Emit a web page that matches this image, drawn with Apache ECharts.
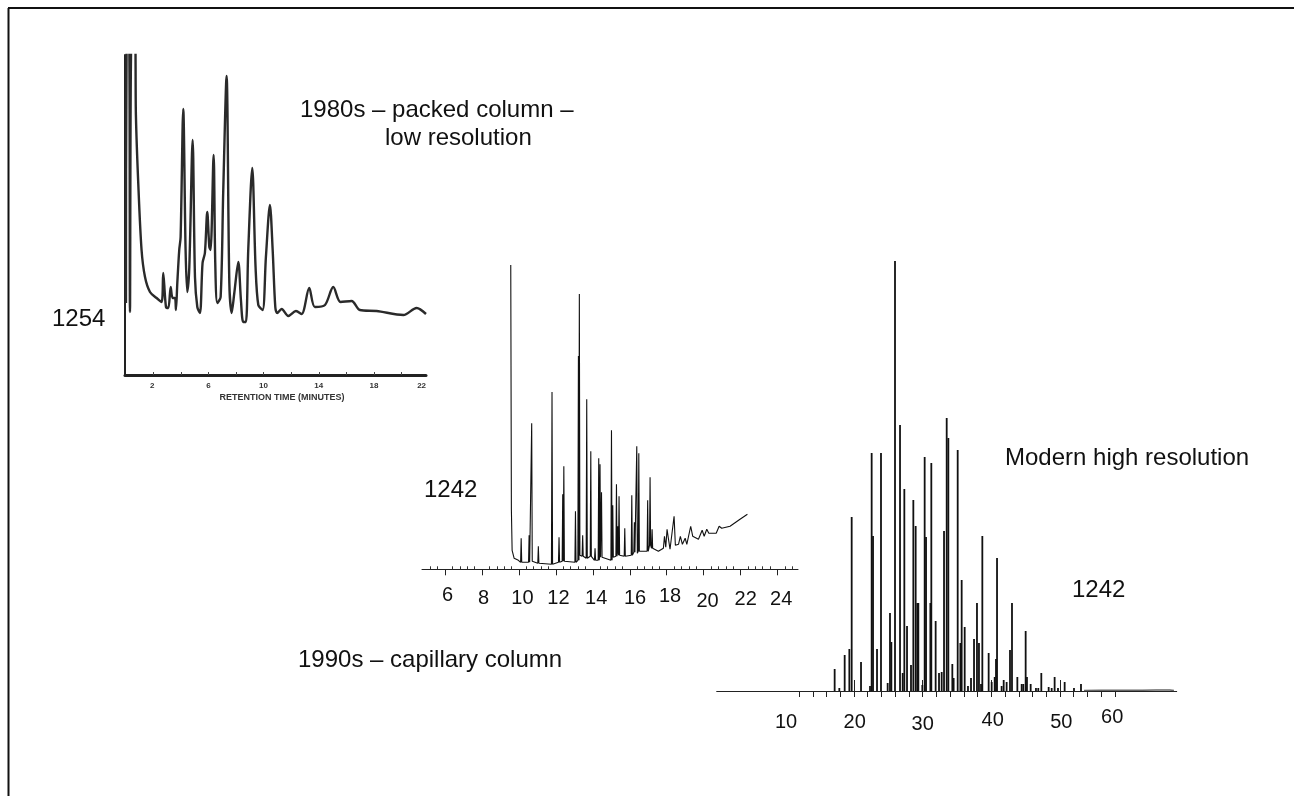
<!DOCTYPE html>
<html><head><meta charset="utf-8">
<style>html,body{margin:0;padding:0;background:#fff}#c{width:1294px;height:796px}</style>
<script src="https://cdn.jsdelivr.net/npm/echarts@6/dist/echarts.min.js"></script>
</head><body><div id="c"></div>
<script>
// 1980s packed column, Aroclor 1254 : retention time (min), detector height
const packedTimes=[0.03,0.08,0.25,0.32,0.44,0.68,0.75,0.92,1.16,1.41,1.77,2.25,2.61,2.73,2.93,3.10,3.27,3.41,3.58,3.65,3.75,3.89,3.99,4.18,4.35,4.47,4.62,4.86,5.03,5.20,5.39,5.58,5.75,5.92,6.07,6.16,6.38,6.50,6.65,6.89,7.08,7.32,7.52,7.69,7.88,8.17,8.36,8.53,8.72,8.89,9.18,9.42,9.62,9.93,10.17,10.46,10.66,10.85,10.99,11.31,11.79,12.35,12.76,13.31,13.72,14.45,15.05,15.58,16.38,16.98,18.19,20.13,21.09,21.77];
const packedSignal=[72,342,342,63,342,342,260,192,125,98,83,77,73,102,68,67,88,77,77,65,92,125,138,266,125,83,108,235,98,68,62,112,122,163,128,125,220,112,72,78,185,299,92,62,82,113,75,53,53,125,207,108,70,65,118,170,125,68,62,66,59,64,61,87,68,70,88,73,74,65,64,60,67,61];
const packedTickValues=[2,4,6,8,10,12,14,16,18,20];
const packedLabelValues=[1.94,6,10,14,18,21.45];
const packedLabels=['2','6','10','14','18','22'];

// 1990s capillary column, Aroclor 1242
const capLeadTimes=[9.556,9.59,9.63,9.74,9.97];
const capLeadSignal=[304,60,19,11,9];
const capPeakTimes=[10.12,10.55,10.69,11.05,11.79,12.17,12.37,12.43,13.06,13.22,13.27,13.45,13.67,13.89,14.12,14.32,14.39,14.47,15.01,15.08,15.28,15.35,15.42,15.73,16.11,16.25,16.38,16.49,16.97,17.10,17.21];
const capPeakSignal=[31,34,146,23,177,32,75,103,58,213,275,34,170,118,21,111,105,77,139,64,85,43,73,41,74,47,123,116,69,92,40];
const capPeakFoot=[7,7,8,6,5,7,8,8,7,9,14,13,11,13,9,9,12,12,9,12,13,16,14,13,14,17,16,18,18,24,21];
const capTailTimes=[17.32,17.55,17.82,17.88,17.95,18.02,18.09,18.18,18.40,18.47,18.64,18.74,18.85,19.00,19.09,19.30,19.41,19.72,19.92,20.03,20.17,20.28,20.68,20.84,20.98,21.43,21.97,22.37];
const capTailSignal=[21,18,21,33,22,40,31,20,53,24,25,33,25,31,25,43,33,30,39,33,40,36,36,43,41,43,50,55];
const capMajorTicks=[6,8,10,12,14,16,18,20,22,24];
const capMinorTicks=[5.2,5.6,6.4,6.8,7.2,7.6,8.4,8.8,9.2,9.6,10.4,10.8,11.2,11.6,12.4,12.8,13.2,13.6,14.4,14.8,15.2,15.6,16.4,16.8,17.2,17.6,18.4,18.8,19.2,19.6,20.4,20.8,21.2,21.6,22.4,22.8,23.2,23.6,24.4,24.8];
const capLabelValues=[6.14,8.08,10.19,12.14,14.18,16.29,18.18,20.21,22.28,24.2];
const capLabels=['6','8','10','12','14','16','18','20','22','24'];

// Modern high resolution, Aroclor 1242 : peak list
const hiResTimes=[17.18,17.86,18.64,19.32,19.66,21.02,22.33,22.57,22.77,23.35,23.93,24.90,25.24,25.44,25.97,26.70,27.09,27.33,27.72,28.30,28.64,28.98,29.22,29.37,29.95,30.29,30.49,31.12,31.26,31.89,32.38,32.77,33.11,33.50,33.74,34.32,34.51,35.10,35.49,35.68,36.12,36.60,37.04,37.48,37.91,38.20,38.50,38.69,39.61,40.05,40.49,40.68,40.83,41.50,41.80,42.23,42.72,43.01,43.79,44.42,44.66,45.00,45.19,45.73,46.50,46.84,47.28,48.35,48.79,49.22,49.71,50.68,52.04,53.06];
const hiResHeights=[22,3,36,42,174,29,5,238,155,42,238,8,78,49,430,266,18,202,65,26,191,165,88,88,6,234,154,88,228,70,18,19,160,273,253,27,13,241,48,111,64,5,13,52,88,48,7,155,38,9,14,32,133,5,11,9,41,88,14,7,7,60,14,7,3,3,18,4,3,14,3,9,3,7];
const hiResBaseTimes=[53.5,56,58,60,62,64,66,66.6];
const hiResBaseHeights=[0.6,0.7,0.8,0.7,0.8,0.9,0.9,0.4];
const hiResMinorTicks=[12,14,16,18,20,22,24,26,28,30,32,34,36,38,40,42,44,46,48,50,52,54,56,58];
const hiResMajorTicks=[20,30,40,50];
const hiResLabelValues=[10.1,20.1,30,40.2,50.2,57.6];
const hiResLabels=['10','20','30','40','50','60'];

const annotations=[
 {text:'1980s – packed column –',x:300,y:110},
 {text:'low resolution',x:385,y:138},
 {text:'1254',x:52,y:319},
 {text:'1242',x:424,y:490},
 {text:'1990s – capillary column',x:298,y:660},
 {text:'Modern high resolution',x:1005,y:458},
 {text:'1242',x:1072,y:590}
];

const FONT='"Liberation Sans",Arial,sans-serif';
const zip=(a,b)=>a.map((v,i)=>[v,b[i]]);
const capTrace=zip(capLeadTimes,capLeadSignal);
capPeakTimes.forEach((t,i)=>{capTrace.push([t-0.03,capPeakFoot[i]],[t,capPeakSignal[i]],[t+0.03,capPeakFoot[i]]);});
capTrace.push(...zip(capTailTimes,capTailSignal));

function nudgedLabels(values,names,offsets){
  const rich={};
  offsets.forEach((o,i)=>{rich['n'+i]={fontFamily:FONT,fontSize:20,color:'#111',padding:[o,0,0,0]};});
  return {rich,formatter:v=>{const i=values.findIndex(x=>Math.abs(x-v)<1e-6);return `{n${i}|${names[i]}}`;}};
}
const capN=nudgedLabels(capLabelValues,capLabels,[0,3,3,3,3,3,1,6,4,4]);
const hiN=nudgedLabels(hiResLabelValues,hiResLabels,[5,5,7,3,5,0]);

const bare={type:'value',show:false};
const option={
 animation:false,backgroundColor:'#fff',
 grid:[
  {left:125,top:55,width:301,height:320},
  {left:422,top:265,width:376,height:304.3},
  {left:716.7,top:261,width:460,height:430}
 ],
 xAxis:[
  {gridIndex:0,type:'value',min:-0.04,max:21.77,splitLine:{show:false},
   name:'RETENTION TIME (MINUTES)',nameLocation:'middle',nameGap:18,nameMoveOverlap:false,
   nameTextStyle:{fontFamily:FONT,fontSize:9,fontWeight:'bold',color:'#333',padding:[0,0,0,13]},
   axisLine:{show:true,onZero:false,lineStyle:{color:'#222',width:3}},
   axisTick:{show:true,inside:true,length:3,customValues:packedTickValues,lineStyle:{color:'#444',width:1}},
   axisLabel:{show:true,margin:7,hideOverlap:false,customValues:packedLabelValues,fontFamily:FONT,fontSize:8,fontWeight:'bold',color:'#333',
     formatter:v=>packedLabels[packedLabelValues.findIndex(x=>Math.abs(x-v)<1e-6)]}},
  {gridIndex:1,type:'value',min:4.75,max:25.11,splitLine:{show:false},
   axisLine:{show:true,onZero:false,lineStyle:{color:'#222',width:1}},
   axisTick:{show:true,length:6,customValues:capMajorTicks,lineStyle:{color:'#222',width:1}},
   axisLabel:{show:true,margin:16,customValues:capLabelValues,hideOverlap:false,...capN}},
  {gridIndex:1,type:'value',min:4.75,max:25.11,splitLine:{show:false},
   axisLine:{show:false},axisLabel:{show:false},
   axisTick:{show:true,length:3,customValues:capMinorTicks,lineStyle:{color:'#333',width:1}}},
  {gridIndex:2,type:'value',min:0,max:67,splitLine:{show:false},
   axisLine:{show:true,onZero:false,lineStyle:{color:'#222',width:1}},
   axisTick:{show:true,length:6,customValues:hiResMinorTicks,lineStyle:{color:'#222',width:1}},
   axisLabel:{show:true,margin:16,customValues:hiResLabelValues,hideOverlap:false,...hiN}},
  {gridIndex:2,type:'value',min:0,max:67,splitLine:{show:false},
   axisLine:{show:false},axisLabel:{show:false},
   axisTick:{show:true,length:11,customValues:hiResMajorTicks,lineStyle:{color:'#222',width:1}}}
 ],
 yAxis:[
  {gridIndex:0,type:'value',min:0,max:320,splitLine:{show:false},axisLabel:{show:false},axisTick:{show:false},
   axisLine:{show:true,onZero:false,lineStyle:{color:'#222',width:2}}},
  {gridIndex:1,...bare,min:0,max:304,splitLine:{show:false}},
  {gridIndex:2,...bare,min:0,max:430,splitLine:{show:false}}
 ],
 series:[
  {type:'line',xAxisIndex:0,yAxisIndex:0,showSymbol:false,smooth:0.3,data:zip(packedTimes,packedSignal),lineStyle:{color:'#2a2a2a',width:2.4}},
  {type:'line',xAxisIndex:1,yAxisIndex:1,showSymbol:false,data:capTrace,lineStyle:{color:'#111',width:1.1}},
  {type:'bar',xAxisIndex:3,yAxisIndex:2,barWidth:1.8,data:zip(hiResTimes,hiResHeights),itemStyle:{color:'#111'}},
  {type:'line',xAxisIndex:3,yAxisIndex:2,showSymbol:false,data:zip(hiResBaseTimes,hiResBaseHeights),lineStyle:{color:'#666',width:1.5}}
 ],
 graphic:[
  {type:'line',shape:{x1:8,y1:8,x2:1294,y2:8},style:{stroke:'#111',lineWidth:2}},
  {type:'line',shape:{x1:8.5,y1:8,x2:8.5,y2:796},style:{stroke:'#111',lineWidth:2}},
  ...annotations.map(a=>({type:'text',x:a.x,y:a.y,style:{text:a.text,font:`24px ${FONT}`,fill:'#111',textAlign:'left',textVerticalAlign:'middle'}}))
 ]
};
echarts.init(document.getElementById('c'),null,{renderer:'canvas'}).setOption(option);
</script></body></html>
